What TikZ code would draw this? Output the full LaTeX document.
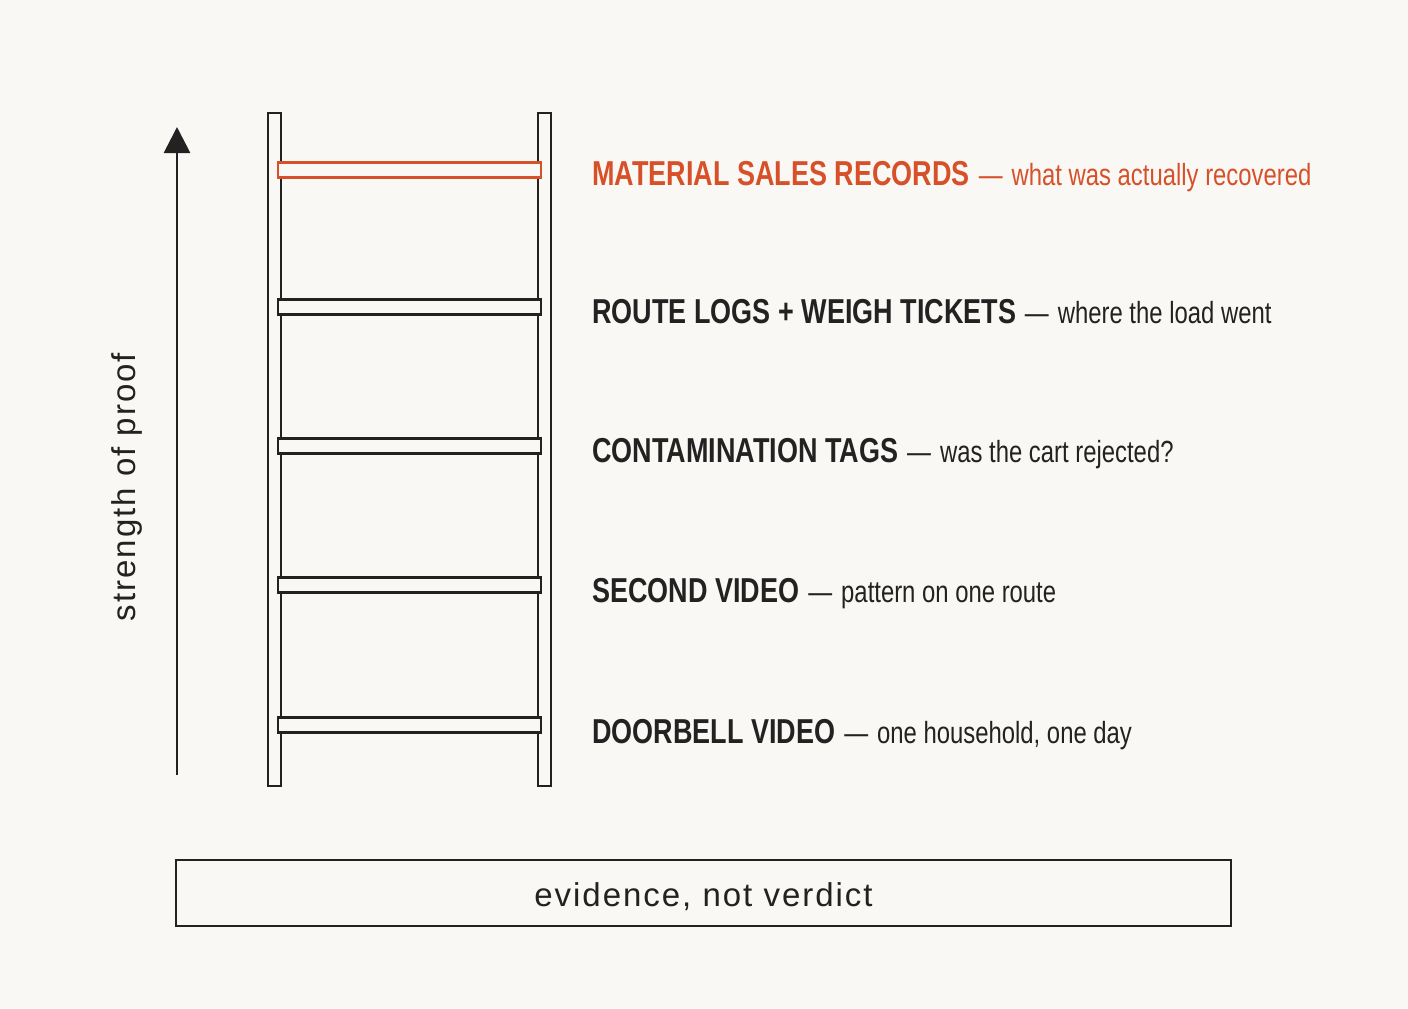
\documentclass[tikz,border=0pt]{standalone}
\usepackage{fontspec}
\setmainfont{Liberation Sans}
\newfontfamily\condfont[FakeStretch=0.78]{Liberation Sans}
\newfontfamily\spacedfont[LetterSpace=6]{Liberation Sans}
\usetikzlibrary{arrows.meta}
\definecolor{bg}{HTML}{FAF8F4}
\definecolor{ink}{HTML}{222222}
\definecolor{accent}{HTML}{D6512A}
\newcommand\hdtext[1]{{\bfseries\fontsize{17.3}{20}\selectfont #1}}
\newcommand\dstext[1]{{\fontsize{15.3}{18}\selectfont\hspace{4.5pt}—\hspace{4.5pt}#1}}
\tikzset{
  rail/.style={draw=ink, line width=1.4pt, fill=bg},
  rungbox/.style={draw=ink, line width=1.3pt, fill=bg},
  toprung/.style={draw=accent, line width=1.1pt, fill=bg},
  rowlabel/.style={anchor=base west, inner sep=0pt, font=\condfont, text=ink},
  spaced/.style={font=\spacedfont\fontsize{16.5}{20}\selectfont, text=ink, inner sep=0pt},
}
\begin{document}
\begin{tikzpicture}[x=0.5pt,y=-0.5pt]
\fill[bg] (0,0) rectangle (1408,1008);
\useasboundingbox (0,0) rectangle (1408,1008);
% rails
\draw[rail] (268,113) rectangle (281,786);
\draw[rail] (538,113) rectangle (551,786);
% rungs
\draw[toprung] (278,162.5) rectangle (541,177.5);
\foreach \y in {307,446,585,725}{
  \draw[rungbox] (278,\y-7.5) rectangle (541,\y+7.5);
}
% arrow
\coordinate (arrowfoot) at (177,775);
\coordinate (arrowtip) at (177,127);
\draw[ink, line width=1.4pt, -{Triangle[length=13pt,width=13pt]}] (arrowfoot) -- (arrowtip);
\node[spaced, rotate=90] (axislabel) at (127,487) {strength of proof};
% labels
\node[rowlabel, text=accent] (r5) at (592,185) {\hdtext{MATERIAL SALES RECORDS}\dstext{what was actually recovered}};
\node[rowlabel] (r4) at (592,323) {\hdtext{ROUTE LOGS + WEIGH TICKETS}\dstext{where the load went}};
\node[rowlabel] (r3) at (592,462) {\hdtext{CONTAMINATION TAGS}\dstext{was the cart rejected?}};
\node[rowlabel] (r2) at (592,602) {\hdtext{SECOND VIDEO}\dstext{pattern on one route}};
\node[rowlabel] (r1) at (592,743) {\hdtext{DOORBELL VIDEO}\dstext{one household, one day}};
% bottom box
\draw[ink, line width=1.1pt] (176,860) rectangle (1231,926);
\node[spaced] (verdict) at (703.5,897) {evidence, not verdict};
\end{tikzpicture}
\end{document}
